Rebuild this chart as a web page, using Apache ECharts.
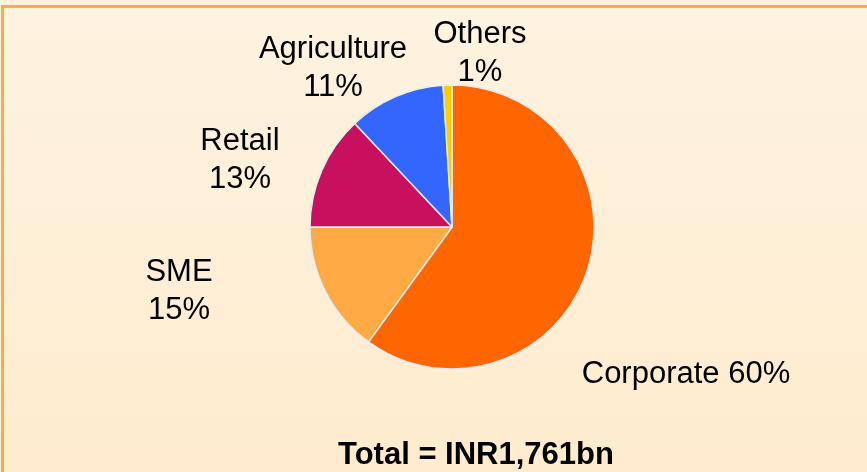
<!DOCTYPE html>
<html>
<head>
<meta charset="utf-8">
<script src="https://cdn.jsdelivr.net/npm/echarts@6/dist/echarts.min.js"></script>
<style>
  html, body { margin: 0; padding: 0; background: #fef2df; }
  #chartData { width: 867px; height: 472px; }
</style>
</head>
<body>
<div id="chartData"></div>
<script>
// 数据
var categories = ['Corporate', 'SME', 'Retail', 'Agriculture', 'Others'];
var shares     = [60, 15, 13, 11, 1];
var colors     = ['#ff6600', '#ffaa44', '#c8105e', '#3366ff', '#ffcc00'];
var totalText  = 'Total = INR1,761bn';

// label centres (layout only)
var labelPos = [[686, 374], [179, 291], [240, 160], [333, 68], [480, 53]];

var myChart = echarts.init(document.getElementById('chartData'));

var fontFamily = '"Liberation Sans", Arial, sans-serif';

var option = {
    backgroundColor: 'transparent',
    animation: false,
    graphic: [{
        type: 'rect',
        z: -10,
        shape: { x: 2.5, y: 6.5, width: 900, height: 500 },
        style: {
            fill: new echarts.graphic.LinearGradient(0, 0, 0, 1, [
                { offset: 0, color: '#fef3e1' },
                { offset: 1, color: '#ffebcc' }
            ]),
            stroke: '#ffaa44',
            lineWidth: 3
        }
    }, {
        type: 'text',
        x: 476,
        y: 455,
        style: {
            text: totalText,
            fill: '#000',
            font: 'bold 31px ' + fontFamily,
            align: 'center',
            verticalAlign: 'middle'
        }
    }],
    series: [{
        type: 'pie',
        center: [452, 227],
        radius: 142,
        startAngle: 90,
        clockwise: true,
        data: categories.map(function (name, i) {
            return { name: name, value: shares[i], itemStyle: { color: colors[i] } };
        }),
        itemStyle: {
            borderColor: '#e4ecf5',
            borderWidth: 1.5
        },
        label: {
            show: true,
            position: 'outside',
            color: '#000',
            fontFamily: fontFamily,
            fontSize: 31,
            lineHeight: 38,
            formatter: function (p) {
                return p.name === 'Corporate' ? p.name + ' ' + p.value + '%' : p.name + '\n' + p.value + '%';
            }
        },
        labelLine: { show: false },
        labelLayout: function (params) {
            var pos = labelPos[params.dataIndex];
            return { x: pos[0], y: pos[1], align: 'center', verticalAlign: 'middle', hideOverlap: false };
        },
        emphasis: { disabled: true }
    }]
};

myChart.setOption(option);
</script>
</body>
</html>
